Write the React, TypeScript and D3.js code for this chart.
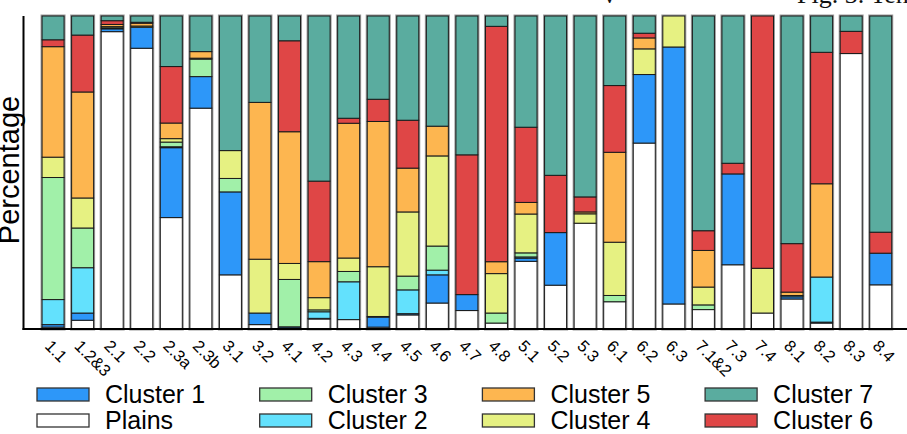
import React from "react";
import * as d3 from "d3";

// Regions along the x axis
const categories = [
  "1.1", "1.2&3", "2.1", "2.2", "2.3a", "2.3b", "3.1", "3.2", "4.1", "4.2",
  "4.3", "4.4", "4.5", "4.6", "4.7", "4.8", "5.1", "5.2", "5.3", "6.1",
  "6.2", "6.3", "7.1&2", "7.3", "7.4", "8.1", "8.2", "8.3", "8.4",
];

// Share of each class per region (stacked bottom to top in this order)
const plains = [0.006, 0.028, 0.95, 0.897, 0.357, 0.707, 0.173, 0.014, 0.003, 0.032, 0.03, 0.006, 0.045, 0.083, 0.059, 0.019, 0.216, 0.14, 0.338, 0.087, 0.594, 0.08, 0.062, 0.205, 0.051, 0.096, 0.019, 0.88, 0.141];
const cluster1 = [0.008, 0.023, 0.009, 0.067, 0.224, 0.101, 0.265, 0.037, 0.004, 0.002, 0, 0.032, 0.004, 0.09, 0.051, 0, 0.01, 0.168, 0, 0, 0.219, 0.821, 0, 0.29, 0, 0.007, 0.003, 0, 0.101];
const cluster2 = [0.08, 0.145, 0.003, 0, 0.003, 0, 0, 0, 0, 0.021, 0.121, 0, 0.076, 0.015, 0, 0, 0.004, 0, 0, 0, 0, 0, 0, 0, 0, 0.004, 0.144, 0, 0];
const cluster3 = [0.39, 0.127, 0, 0, 0.015, 0.056, 0.043, 0, 0.151, 0.006, 0.033, 0.002, 0.044, 0.077, 0, 0.032, 0.013, 0, 0, 0.02, 0, 0, 0.015, 0, 0, 0, 0, 0, 0];
const cluster4 = [0.065, 0.096, 0.004, 0.004, 0.011, 0.003, 0.089, 0.172, 0.051, 0.039, 0.043, 0.159, 0.205, 0.288, 0, 0.126, 0.124, 0, 0.03, 0.17, 0.082, 0.099, 0.057, 0, 0.143, 0, 0, 0, 0];
const cluster5 = [0.353, 0.339, 0.007, 0.009, 0.05, 0.021, 0, 0.501, 0.42, 0.115, 0.431, 0.464, 0.14, 0.095, 0, 0.038, 0.037, 0, 0.006, 0.287, 0.035, 0, 0.117, 0, 0, 0.011, 0.298, 0, 0];
const cluster6 = [0.022, 0.182, 0.012, 0.003, 0.181, 0, 0, 0, 0.29, 0.257, 0.016, 0.071, 0.153, 0, 0.447, 0.752, 0.24, 0.183, 0.048, 0.213, 0.015, 0, 0.063, 0.034, 0.806, 0.155, 0.42, 0.071, 0.067];
const cluster7 = [0.076, 0.061, 0.015, 0.02, 0.162, 0.114, 0.43, 0.276, 0.079, 0.527, 0.327, 0.266, 0.333, 0.352, 0.444, 0.033, 0.355, 0.509, 0.578, 0.222, 0.055, 0, 0.686, 0.47, 0, 0.728, 0.116, 0.049, 0.69];

const seriesNames = ["Plains", "Cluster 1", "Cluster 2", "Cluster 3", "Cluster 4", "Cluster 5", "Cluster 6", "Cluster 7"];
const seriesValues = [plains, cluster1, cluster2, cluster3, cluster4, cluster5, cluster6, cluster7];
const seriesColors = ["#ffffff", "#2d97f9", "#63e1fd", "#a1f0a9", "#e6f182", "#fdb650", "#df4646", "#5aac9f"];

// Legend layout: columns of two entries each
const legendColumns = [
  ["Cluster 1", "Plains"],
  ["Cluster 3", "Cluster 2"],
  ["Cluster 5", "Cluster 4"],
  ["Cluster 7", "Cluster 6"],
];

const W = 907;
const H = 434;
const axisX = 23.5;
const step = 29.56;
const plotTop = 16;
const plotBottom = 329;
const barW = 22;

export default function App() {
  const rows = categories.map((c, i) => {
    const r: Record<string, any> = { category: c };
    seriesNames.forEach((s, k) => (r[s] = seriesValues[k][i]));
    return r;
  });

  const stacked = d3
    .stack<Record<string, any>>()
    .keys(seriesNames)
    .offset(d3.stackOffsetExpand)(rows);

  const x = d3
    .scaleLinear()
    .domain([-1, categories.length])
    .range([axisX, axisX + (categories.length + 1) * step]);
  const y = d3.scaleLinear().domain([0, 1]).range([plotBottom, plotTop]);
  const color = d3.scaleOrdinal<string, string>().domain(seriesNames).range(seriesColors);

  const font = "'Liberation Sans', Arial, Helvetica, sans-serif";

  return (
    <svg
      width={W}
      height={H}
      viewBox={`0 0 ${W} ${H}`}
      style={{ position: "fixed", left: 0, top: 0, background: "#fff" }}
    >
      {/* caption running in from above */}
      <text x={797} y={2.5} fontFamily="'Liberation Serif', 'Times New Roman', serif" fontSize={26} fill="#111">
        Fig. 3. Ten
      </text>
      <text x={603} y={2.5} fontFamily="'Liberation Serif', 'Times New Roman', serif" fontSize={26} fill="#111">
        v
      </text>

      {/* soft halo round each bar */}
      {categories.map((c, i) => (
        <rect
          key={"halo" + c}
          x={x(i) - barW / 2}
          y={y(1)}
          width={barW}
          height={y(0) - y(1)}
          fill="none"
          stroke="#9a9a9a"
          strokeWidth={3}
        />
      ))}

      {/* stacked segments */}
      {stacked.map((layer) => (
        <g key={layer.key}>
          {layer.map((seg, i) =>
            seg[1] - seg[0] > 0 ? (
              <rect
                key={layer.key + i}
                x={x(i) - barW / 2}
                y={y(seg[1])}
                width={barW}
                height={y(seg[0]) - y(seg[1])}
                fill={color(layer.key)}
                stroke="#1a1a1a"
                strokeWidth={1}
              />
            ) : null
          )}
        </g>
      ))}

      {/* axes */}
      <line x1={axisX} x2={axisX} y1={plotTop} y2={plotBottom + 1} stroke="#000" strokeWidth={2} />
      <line x1={axisX - 1} x2={W} y1={plotBottom} y2={plotBottom} stroke="#000" strokeWidth={2} />

      {/* category labels */}
      {categories.map((c, i) => (
        <text
          key={"lab" + c}
          transform={`translate(${x(i) - 9},${347}) rotate(45)`}
          fontFamily={font}
          fontSize={16.5}
          fill="#000"
        >
          {c}
        </text>
      ))}

      {/* y axis title */}
      <text
        transform={`translate(${19},${170}) rotate(-90)`}
        textAnchor="middle"
        fontFamily={font}
        fontSize={29}
        fill="#000"
      >
        Percentage
      </text>

      {/* legend */}
      {legendColumns.map((col, ci) =>
        col.map((name, ri) => {
          const lx = 37 + ci * 222.7;
          const ly = 388 + ri * 26;
          return (
            <g key={name}>
              <rect x={lx} y={ly} width={52} height={13} fill={color(name)} stroke="#333" strokeWidth={1.3} />
              <text x={lx + 68} y={ly + 15} fontFamily={font} fontSize={25} fill="#000">
                {name}
              </text>
            </g>
          );
        })
      )}
    </svg>
  );
}
